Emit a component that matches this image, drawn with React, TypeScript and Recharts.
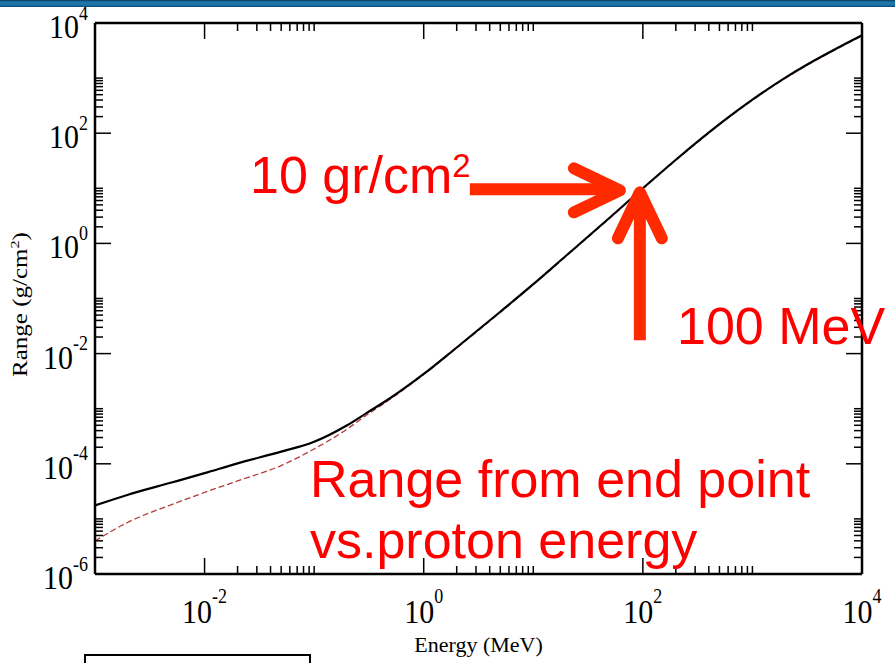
import { LineChart, Line, XAxis, YAxis, ReferenceDot, Label } from "recharts";

// proton energy (MeV) and range (g/cm^2)
const energy = [0.001, 0.002, 0.005, 0.01, 0.02, 0.05, 0.1, 0.2, 0.3, 0.5, 1, 2, 5, 10, 20, 50, 100, 200, 500, 1000, 2000, 3000, 5000, 10000];
const rangeSolid = [1.75e-5, 2.75e-5, 4.57e-5, 6.76e-5, 1.02e-4, 1.66e-4, 2.51e-4, 5.0e-4, 8.3e-4, 1.58e-3, 4.27e-3, 1.29e-2, 5.75e-2, 0.182, 0.603, 2.95, 10.0, 33.0, 146, 406, 1021, 1660, 2910, 5980];
const rangeDashed = [3.98e-6, 8.7e-6, 1.82e-5, 3.02e-5, 4.9e-5, 9.3e-5, 1.86e-4, 4.27e-4, 7.6e-4, 1.51e-3, 4.17e-3, 1.26e-2, 5.6e-2, 0.178, 0.59, 2.88, 9.8, 32.2, 143, 397, 998, 1620, 2840, 5840];

const xMajor = [0.01, 1, 100, 10000];
const xMajorExp = ["-2", "0", "2", "4"];
const xMinor = [0.02, 0.03, 0.04, 0.05, 0.06, 0.07, 0.08, 0.09, 0.1, 2, 3, 4, 5, 6, 7, 8, 9, 10, 200, 300, 400, 500, 600, 700, 800, 900, 1000];
const yMajor = [1e-6, 1e-4, 1e-2, 1, 100, 10000];
const yMajorExp = ["-6", "-4", "-2", "0", "2", "4"];
const yMinor = [
  2e-6, 3e-6, 4e-6, 5e-6, 6e-6, 7e-6, 8e-6, 9e-6, 1e-5,
  2e-4, 3e-4, 4e-4, 5e-4, 6e-4, 7e-4, 8e-4, 9e-4, 1e-3,
  0.02, 0.03, 0.04, 0.05, 0.06, 0.07, 0.08, 0.09, 0.1,
  2, 3, 4, 5, 6, 7, 8, 9, 10,
  200, 300, 400, 500, 600, 700, 800, 900, 1000,
];

const data = energy.map((e, i) => ({ e, solid: rangeSolid[i], dashed: rangeDashed[i] }));

const SERIF = "'Liberation Serif', 'DejaVu Serif', serif";
const SANS = "'Liberation Sans', Arial, sans-serif";
const MAJOR = 16;
const MINOR = 8;
const LABEL_SCALE = 1.15;

const makeXTick = (side: "bottom" | "top") => (p: any) => {
  const { x, y, payload } = p;
  const i = xMajor.indexOf(payload.value);
  const len = i >= 0 ? MAJOR : MINOR;
  const dir = side === "bottom" ? -1 : 1;
  return (
    <g>
      <line x1={x} y1={y} x2={x} y2={y + dir * len} stroke="#000" strokeWidth={1.5} />
      {side === "bottom" && i >= 0 && (
        <g transform={`translate(${x},${y + 49}) scale(1,${LABEL_SCALE})`}>
          <text textAnchor="middle" fontFamily={SERIF} fontSize={30} fill="#000">
            10<tspan dy={-17} fontSize={18}>{xMajorExp[i]}</tspan>
          </text>
        </g>
      )}
    </g>
  );
};

const makeYTick = (side: "left" | "right") => (p: any) => {
  const { x, y, payload } = p;
  const i = yMajor.indexOf(payload.value);
  const len = i >= 0 ? MAJOR : MINOR;
  const dir = side === "left" ? 1 : -1;
  return (
    <g>
      <line x1={x} y1={y} x2={x + dir * len} y2={y} stroke="#000" strokeWidth={1.5} />
      {side === "left" && i >= 0 && (
        <g transform={`translate(${x - 7},${y + 15}) scale(1,${LABEL_SCALE})`}>
          <text textAnchor="end" fontFamily={SERIF} fontSize={30} fill="#000">
            10<tspan dy={-16} fontSize={18}>{yMajorExp[i]}</tspan>
          </text>
        </g>
      )}
    </g>
  );
};

const Arrows = (p: any) => {
  const { cx, cy } = p;
  const red = "#ff2a00";
  return (
    <g>
      <line x1={cx - 173} y1={cy + 1} x2={cx - 28} y2={cy + 1} stroke={red} strokeWidth={12} />
      <polyline
        points={`${cx - 69},${cy - 20} ${cx - 23},${cy + 2} ${cx - 69},${cy + 24}`}
        fill="none" stroke={red} strokeWidth={12} strokeLinecap="round" strokeLinejoin="round"
      />
      <line x1={cx - 3} y1={cy + 152} x2={cx - 3} y2={cy + 8} stroke={red} strokeWidth={12} />
      <polyline
        points={`${cx - 25},${cy + 50} ${cx - 3},${cy + 4} ${cx + 19},${cy + 50}`}
        fill="none" stroke={red} strokeWidth={12} strokeLinecap="round" strokeLinejoin="round"
      />
    </g>
  );
};

export default function App() {
  return (
    <div style={{ position: "absolute", left: 0, top: 0, width: 895, height: 663, overflow: "hidden", background: "#fff" }}>
      <div
        style={{
          position: "absolute", left: 0, top: 0, width: 895, height: 7, zIndex: 2,
          background: "linear-gradient(to bottom, #0a3a5c 0%, #1b78ad 30%, #1c74a8 70%, #0b4872 100%)",
        }}
      />
      <LineChart width={895} height={663} data={data} margin={{ top: 13, right: 23, bottom: 29, left: 15 }}>
        <XAxis
          dataKey="e" type="number" scale="log" domain={[0.001, 10000]} allowDataOverflow
          ticks={[...xMajor, ...xMinor]} interval={0} tickSize={0} tickMargin={0} tickLine={false}
          axisLine={{ stroke: "#000", strokeWidth: 2.5 }} height={60} tick={makeXTick("bottom")}
        >
          <Label
            content={(lp: any) => {
              const vb = lp.viewBox;
              return (
                <text x={vb.x + vb.width / 2} y={vb.y + 78} textAnchor="middle" fontFamily={SERIF} fontSize={22} fill="#000">
                  Energy (MeV)
                </text>
              );
            }}
          />
        </XAxis>
        <XAxis
          xAxisId="top" orientation="top" dataKey="e" type="number" scale="log" domain={[0.001, 10000]} allowDataOverflow
          ticks={[...xMajor, ...xMinor]} interval={0} tickSize={0} tickMargin={0} tickLine={false}
          axisLine={{ stroke: "#000", strokeWidth: 2.5 }} height={10} tick={makeXTick("top")}
        />
        <YAxis
          type="number" scale="log" domain={[1e-6, 10000]} allowDataOverflow
          ticks={[...yMajor, ...yMinor]} interval={0} tickSize={0} tickMargin={0} tickLine={false}
          axisLine={{ stroke: "#000", strokeWidth: 2.5 }} width={80} tick={makeYTick("left")}
        >
          <Label
            content={(lp: any) => {
              const vb = lp.viewBox;
              const cy = vb.y + vb.height / 2 + 6;
              return (
                <text transform={`translate(${vb.x + 12},${cy}) rotate(-90) scale(1.25,1)`} textAnchor="middle" fontFamily={SERIF} fontSize={20} fill="#000">
                  Range (g/cm<tspan dy={-8} fontSize={13}>2</tspan><tspan dy={8}>)</tspan>
                </text>
              );
            }}
          />
        </YAxis>
        <YAxis
          yAxisId="right" orientation="right" type="number" scale="log" domain={[1e-6, 10000]} allowDataOverflow
          ticks={[...yMajor, ...yMinor]} interval={0} tickSize={0} tickMargin={0} tickLine={false}
          axisLine={{ stroke: "#000", strokeWidth: 2.5 }} width={10} tick={makeYTick("right")}
        />
        <Line dataKey="dashed" type="monotone" stroke="#b33a3a" strokeWidth={1.3} strokeDasharray="6 3" dot={false} isAnimationActive={false} />
        <Line dataKey="solid" type="monotone" stroke="#000" strokeWidth={2.2} dot={false} isAnimationActive={false} />
        <ReferenceDot x={100} y={10} r={0} ifOverflow="visible" shape={(p: any) => <Arrows {...p} />} />
      </LineChart>
      <svg width={895} height={663} style={{ position: "absolute", left: 0, top: 0, zIndex: 1, pointerEvents: "none" }}>
        <g fontFamily={SANS} fill="#ff0000">
          <text x={250} y={193} fontSize={52}>
            10 gr/cm<tspan dy={-16} fontSize={33}>2</tspan>
          </text>
          <text x={677} y={344} fontSize={52}>100 MeV</text>
          <text x={310} y={497} fontSize={52}>Range from end point</text>
          <text x={310} y={558} fontSize={52}>vs.proton energy</text>
        </g>
      </svg>
      <div style={{ position: "absolute", left: 84, top: 654, width: 223, height: 30, border: "2px solid #000" }} />
    </div>
  );
}
